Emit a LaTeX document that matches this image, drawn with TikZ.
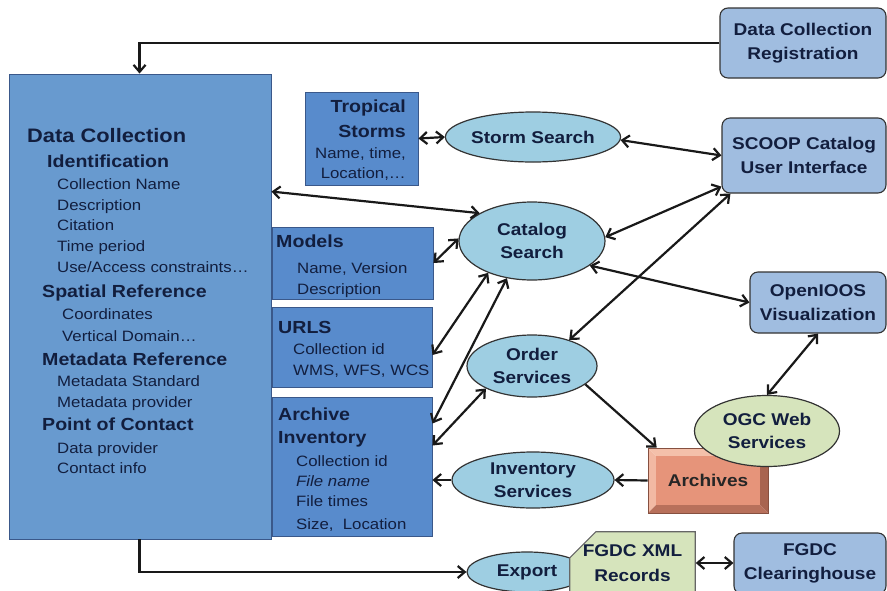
\documentclass[tikz,border=0pt]{standalone}
\usepackage{fontspec}
\setmainfont{Liberation Sans}[FakeStretch=1.12]
\usetikzlibrary{arrows.meta,shapes.geometric,shapes.misc}

\definecolor{dcblue}{RGB}{104,154,207}
\definecolor{dcedge}{RGB}{58,88,138}
\definecolor{boxblue}{RGB}{88,139,204}
\definecolor{navy}{RGB}{18,30,62}
\definecolor{ellblue}{RGB}{158,206,226}
\definecolor{uiblue}{RGB}{160,189,224}
\definecolor{ogcgreen}{RGB}{214,228,188}
\definecolor{archred}{RGB}{230,148,122}
\definecolor{archlight}{RGB}{244,192,170}
\definecolor{archdark}{RGB}{168,100,80}

\begin{document}
\begin{tikzpicture}[x=1pt, y=-1pt,
    >={Straight Barb[length=7pt,width=12pt]},
    link/.style={line width=2.2pt, draw=black!90},
    dcbox/.style={rectangle, draw=dcedge, line width=0.9pt, fill=dcblue, inner sep=0pt},
    infobox/.style={rectangle, draw=dcedge, line width=0.9pt, fill=boxblue, inner sep=0pt},
    service/.style={ellipse, draw=black!80, line width=1.2pt, fill=ellblue, inner sep=0pt,
      align=center, text=navy, font=\bfseries\fontsize{17}{23.5}\selectfont},
    uibox/.style={rectangle, rounded corners=8pt, draw=black!80, line width=1.1pt, fill=uiblue,
      inner sep=0pt, align=center, text=navy, font=\bfseries\fontsize{17}{24.5}\selectfont},
    title/.style={anchor=base west, inner sep=0pt, text=navy, font=\bfseries\fontsize{19.5}{22}\selectfont},
    head/.style={anchor=base west, inner sep=0pt, text=navy, font=\bfseries\fontsize{17.5}{20}\selectfont},
    item/.style={anchor=base west, inner sep=0pt, text=navy, font=\fontsize{15}{18}\selectfont},
  ]

  % Page frame, in pixels of the original
  \clip (0,0) rectangle (887,590);

  % The data collection record
  \node[dcbox, minimum width=262pt, minimum height=465pt] (dc) at (140,306.5) {};
  \foreach \x/\y/\s/\t [count=\i] in {
      27/142/title/Data Collection,
      47/167/head/Identification,
      57/189/item/Collection Name,
      57/210/item/Description,
      57/230/item/Citation,
      57/251/item/Time period,
      57/272/item/{Use/Access constraints…},
      42/297/head/Spatial Reference,
      62/319/item/Coordinates,
      62/341/item/Vertical Domain…,
      42/365/head/Metadata Reference,
      57/386/item/Metadata Standard,
      57/407/item/Metadata provider,
      42/430/head/Point of Contact,
      57/453/item/Data provider,
      57/473/item/Contact info}
    \node[\s] (dcl\i) at (\x,\y) {\t};

  % Boxes beside it
  \node[infobox, minimum width=113pt, minimum height=93pt] (ts) at (361.5,138.5) {};
  \foreach \y/\s/\t [count=\i] in {112/head/Tropical, 137/head/Storms,
      158/item/{Name, time,}, 178/item/{Location,…}}
    \node[\s, anchor=base east] (tsl\i) at (406,\y) {\t};

  \node[infobox, minimum width=161pt, minimum height=72pt] (models) at (352.5,263) {};
  \foreach \x/\y/\s/\t [count=\i] in {276/247/head/Models,
      297/273/item/{Name, Version}, 297/294/item/Description}
    \node[\s] (mdl\i) at (\x,\y) {\t};

  \node[infobox, minimum width=160pt, minimum height=80pt] (urls) at (352,347) {};
  \foreach \x/\y/\s/\t [count=\i] in {278/333/head/URLS,
      293/354/item/Collection id, 293/375/item/{WMS, WFS, WCS}}
    \node[\s] (url\i) at (\x,\y) {\t};

  \node[infobox, minimum width=160pt, minimum height=139pt] (ai) at (352,466.5) {};
  \foreach \x/\y/\s/\t [count=\i] in {278/420/head/Archive, 278/443/head/Inventory,
      296/466/item/Collection id, 296/486/item/\textit{File name},
      296/506/item/File times, 296/529/item/{Size,~ Location}}
    \node[\s] (ail\i) at (\x,\y) {\t};

  % Services
  \node[service, minimum width=172pt, minimum height=50pt] (ss) at (533,137) {Storm Search};
  \node[service, minimum width=146pt, minimum height=78pt] (cs) at (532,241) {Catalog\\Search};
  \node[service, minimum width=130pt, minimum height=62pt] (os) at (532,366) {Order\\Services};
  \node[service, minimum width=162pt, minimum height=56pt] (is) at (533,480) {Inventory\\Services};
  \node[service, minimum width=120pt, minimum height=40pt] (export) at (527,572) {Export};

  % User side
  \node[uibox, minimum width=166pt, minimum height=70pt] (reg) at (803,43) {Data Collection\\Registration};
  \node[uibox, minimum width=164pt, minimum height=75pt] (scoop) at (804,155.5) {SCOOP Catalog\\User Interface};
  \node[uibox, minimum width=136pt, minimum height=61pt] (oi) at (818,302.5) {OpenIOOS\\Visualization};
  \node[uibox, minimum width=152pt, minimum height=61pt] (fc) at (810,563.5) {FGDC\\Clearinghouse};
  \node[uibox, chamfered rectangle, chamfered rectangle corners=north west,
    chamfered rectangle xsep=13pt, chamfered rectangle ysep=13pt, rounded corners=0pt,
    fill=ogcgreen, draw=black!60, minimum width=119pt, minimum height=62pt] (xml) at (632.5,563) {FGDC XML\\Records};

  % Archives, bevelled
  \fill[archlight] (648,448) -- (768,448) -- (760,456) -- (656,456) -- cycle;
  \fill[archlight!85!archred] (648,448) -- (656,456) -- (656,505) -- (648,513) -- cycle;
  \fill[archdark] (768,448) -- (768,513) -- (760,505) -- (760,456) -- cycle;
  \fill[archdark!75!archred] (648,513) -- (768,513) -- (760,505) -- (656,505) -- cycle;
  \fill[archred] (656,456) rectangle (760,505);
  \node[rectangle, draw=archdark!80!black, line width=0.6pt, inner sep=0pt,
    minimum width=120pt, minimum height=65pt, text=black!85,
    font=\bfseries\fontsize{17}{20}\selectfont] (ar) at (708,480.5) {Archives};
  \node[service, fill=ogcgreen, minimum width=145pt, minimum height=71pt] (ogc) at (767,431) {OGC Web\\Services};

  % Connectors
  \draw[link,->] (reg.west) -| ([xshift=131pt]dc.north west);
  \draw[link,->] ([xshift=131pt]dc.south west) |- (export.west);
  \draw[link,<->] (ts.east) -- (ss.west);
  \draw[link,<->] (ss.-2) -- (scoop.west);
  \draw[link,<->] ([yshift=-118pt]dc.north east) -- (cs.152);
  \draw[link,<->] (models.east) -- (cs.178);
  \draw[link,<->] ([yshift=-8pt]urls.east) -- (cs.216);
  \draw[link,<->] ([yshift=43pt]ai.east) -- (cs.236);
  \draw[link,<->] ([yshift=21pt]ai.east) -- (os.206);
  \draw[link,->] (is.west) -- (is.west -| ai.east);
  \draw[link,<->] ([yshift=7pt]scoop.south west) -- (cs.3);
  \draw[link,<->] ([xshift=9pt]scoop.south west) -- (os.35);
  \draw[link,<->] (cs.337) -- (oi.west);
  \draw[link,<->] (oi.south) -- (ogc.north);
  \draw[link,->] (os.341) -- ([xshift=9pt]ar.north west);
  \draw[link,->] (ar.west) -- (is.east);
  \draw[link,<->] (xml.east) -- (xml.east -| fc.west);

\end{tikzpicture}
\end{document}
